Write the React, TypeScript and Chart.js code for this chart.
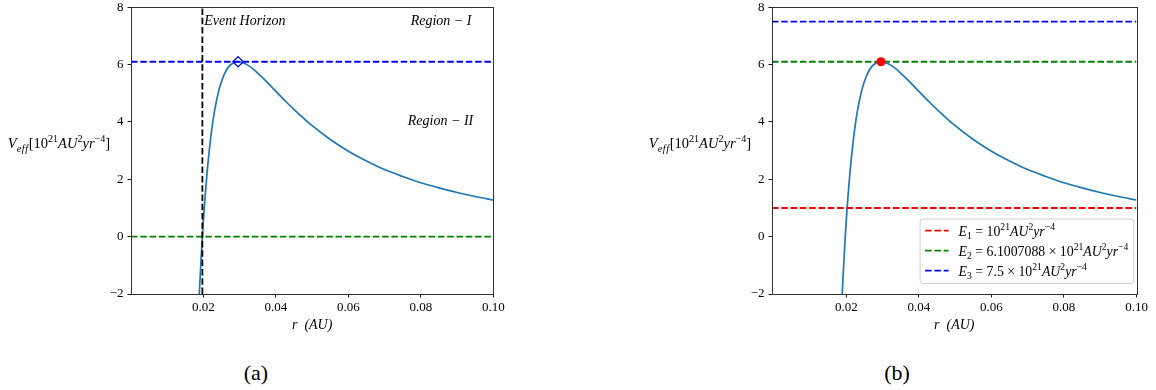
import React, { useEffect, useRef } from "react";
import { Chart, registerables } from "chart.js";

Chart.register(...registerables);

// ---------------- data ----------------
const rValues = [
  0.0186, 0.0188, 0.019, 0.0193, 0.0195, 0.0197, 0.0199, 0.02, 0.0202, 0.0205,
  0.021, 0.0215, 0.022, 0.0225, 0.023, 0.0235, 0.024, 0.0245, 0.025, 0.026,
  0.027, 0.028, 0.029, 0.02955, 0.03, 0.031, 0.032, 0.034, 0.036, 0.038, 0.04,
  0.043, 0.046, 0.05, 0.055, 0.06, 0.065, 0.07, 0.075, 0.08, 0.085, 0.09, 0.095,
  0.1,
];
const vEffValues = [
  -2.73, -2.16, -1.63, -0.89, -0.43, 0, 0.41, 0.6, 0.97, 1.48, 2.24, 2.89, 3.45,
  3.93, 4.34, 4.68, 4.97, 5.22, 5.42, 5.73, 5.93, 6.04, 6.094, 6.1007, 6.097,
  6.06, 6.0, 5.82, 5.58, 5.33, 5.07, 4.68, 4.32, 3.87, 3.39, 2.98, 2.64, 2.34,
  2.1, 1.88, 1.7, 1.54, 1.4, 1.28,
];
const xTickValues = [0.02, 0.04, 0.06, 0.08, 0.1];
const yTickValues = [-2, 0, 2, 4, 6, 8];
const eventHorizonR = [0.0197];
const peakR = [0.02955];
const peakV = [6.1007088];
const panelALevels = [6.1007088, 0];
const energyLevels = [1, 6.1007088, 7.5];
const xMaxValue = 0.1;
const yMinValue = -2;
const yMaxValue = 8;
const panelAXMin = 0;
const panelBXMin = -0.0005;

type Seg = { t: string; it?: boolean; v?: "sup" | "sub" };

const energyLabels: Seg[][] = [
  [
    { t: "E", it: true }, { t: "1", v: "sub" }, { t: " = 10" }, { t: "21", v: "sup" },
    { t: "AU", it: true }, { t: "2", v: "sup" }, { t: "yr", it: true }, { t: "−4", v: "sup" },
  ],
  [
    { t: "E", it: true }, { t: "2", v: "sub" }, { t: " = 6.1007088 × 10" }, { t: "21", v: "sup" },
    { t: "AU", it: true }, { t: "2", v: "sup" }, { t: "yr", it: true }, { t: "−4", v: "sup" },
  ],
  [
    { t: "E", it: true }, { t: "3", v: "sub" }, { t: " = 7.5 × 10" }, { t: "21", v: "sup" },
    { t: "AU", it: true }, { t: "2", v: "sup" }, { t: "yr", it: true }, { t: "−4", v: "sup" },
  ],
];
const yLabelSegs: Seg[] = [
  { t: "V", it: true }, { t: "e", it: true, v: "sub" }, { t: "f", it: true, v: "sub" },
  { t: "f", it: true, v: "sub" }, { t: "[10" }, { t: "21", v: "sup" },
  { t: "AU", it: true }, { t: "2", v: "sup" }, { t: "yr", it: true }, { t: "−4", v: "sup" }, { t: "]" },
];
const panelANotes = [
  { text: "Event Horizon", r: 0.0202, v: 7.38 },
  { text: "Region − I", r: 0.0772, v: 7.38 },
  { text: "Region − II", r: 0.0764, v: 3.91 },
];

// ---------------- styles ----------------
const FONT = "'Liberation Serif', 'Times New Roman', Times, serif";
const CURVE_COLOR = "#1f77b4";
const DASH = [6.5, 2.8];
const panelAColors = ["#0000ff", "#008000"];
const energyColors = ["#ff0000", "#008000", "#0000ff"];
const CW = 578;
const CH = 345;

function segFont(s: Seg, size: number) {
  const sz = s.v ? size * 0.7 : size;
  return `${s.it ? "italic " : ""}${sz}px ${FONT}`;
}
function measureRich(ctx: CanvasRenderingContext2D, segs: Seg[], size: number) {
  let w = 0;
  for (const s of segs) {
    ctx.font = segFont(s, size);
    w += ctx.measureText(s.t).width + (s.it && s.v ? 0.6 : 0);
  }
  return w;
}
function drawRich(
  ctx: CanvasRenderingContext2D,
  segs: Seg[],
  x: number,
  y: number,
  size: number,
  align: "left" | "center" | "right"
) {
  const w = measureRich(ctx, segs, size);
  let cx = align === "center" ? x - w / 2 : align === "right" ? x - w : x;
  ctx.save();
  ctx.fillStyle = "#000";
  ctx.textAlign = "left";
  ctx.textBaseline = "alphabetic";
  for (const s of segs) {
    ctx.font = segFont(s, size);
    const dy = s.v === "sup" ? -size * 0.4 : s.v === "sub" ? size * 0.25 : 0;
    ctx.fillText(s.t, cx, y + dy);
    cx += ctx.measureText(s.t).width + (s.it && s.v ? 0.6 : 0);
  }
  ctx.restore();
  return w;
}

function hLine(level: number, xMin: number, color: string, order: number) {
  return {
    data: [
      { x: xMin, y: level },
      { x: xMaxValue, y: level },
    ],
    showLine: true,
    borderColor: color,
    borderWidth: 1.8,
    borderDash: DASH,
    pointRadius: 0,
    order,
  };
}

function curveDataset() {
  return {
    data: rValues.map((r, i) => ({ x: r, y: vEffValues[i] })),
    showLine: true,
    borderColor: CURVE_COLOR,
    borderWidth: 1.7,
    pointRadius: 0,
    cubicInterpolationMode: "monotone",
    clip: 0,
    order: 5,
  };
}

const framePlugin = {
  id: "frame",
  afterDraw(chart: any) {
    const { ctx, chartArea: a } = chart;
    ctx.save();
    ctx.strokeStyle = "#333";
    ctx.lineWidth = 1;
    ctx.strokeRect(Math.round(a.left) + 0.5, Math.round(a.top) + 0.5, Math.round(a.right - a.left), Math.round(a.bottom - a.top));
    const mid = (a.top + a.bottom) / 2;
    drawRich(ctx, yLabelSegs, a.left - 72, mid - 2.6, 14.5, "center");
    ctx.restore();
  },
};

function baseOptions(xMin: number, yWidth: number, padRight: number) {
  const tickFont = { family: FONT, size: 13 };
  const grid = {
    drawOnChartArea: false,
    drawTicks: true,
    tickLength: 3.5,
    color: "#000",
    lineWidth: 0.9,
  };
  return {
    animation: false,
    responsive: false,
    maintainAspectRatio: false,
    layout: { padding: { left: 0, right: padRight, top: 7.3, bottom: 0 } },
    plugins: { legend: { display: false }, tooltip: { enabled: false } },
    scales: {
      x: {
        type: "linear",
        min: xMin,
        max: xMaxValue,
        afterBuildTicks: (s: any) => {
          s.ticks = xTickValues.map((value) => ({ value }));
        },
        afterFit: (s: any) => {
          s.height = CH - 294;
          s.paddingLeft = 0;
          s.paddingRight = 0;
        },
        ticks: {
          font: tickFont,
          color: "#000",
          padding: 2,
          maxRotation: 0,
          autoSkip: false,
          callback: (v: any) => Number(v).toFixed(2),
        },
        grid,
        border: { display: false },
        title: {
          display: true,
          text: "r  (AU)",
          color: "#000",
          font: { family: FONT, size: 14, style: "italic" },
          padding: { top: 0, bottom: 11.6 },
        },
      },
      y: {
        type: "linear",
        min: yMinValue,
        max: yMaxValue,
        afterBuildTicks: (s: any) => {
          s.ticks = yTickValues.map((value) => ({ value }));
        },
        afterFit: (s: any) => {
          s.width = yWidth;
          s.paddingTop = 0;
          s.paddingBottom = 0;
        },
        ticks: {
          font: tickFont,
          color: "#000",
          padding: 4,
          callback: (v: any) => (Number(v) < 0 ? "−" + Math.abs(Number(v)) : String(v)),
        },
        grid,
        border: { display: false },
      },
    },
  };
}

export default function App() {
  const leftRef = useRef<HTMLCanvasElement>(null);
  const rightRef = useRef<HTMLCanvasElement>(null);

  useEffect(() => {
    const notesPlugin = {
      id: "notes",
      afterDatasetsDraw(chart: any) {
        const { ctx, scales } = chart;
        for (const n of panelANotes) {
          drawRich(
            ctx,
            [{ t: n.text, it: true }],
            scales.x.getPixelForValue(n.r),
            scales.y.getPixelForValue(n.v),
            14,
            "left"
          );
        }
      },
    };

    const legendPlugin = {
      id: "legendBox",
      afterDraw(chart: any) {
        const { ctx, chartArea: a } = chart;
        const size = 13.8;
        let maxW = 0;
        for (const segs of energyLabels) maxW = Math.max(maxW, measureRich(ctx, segs, size));
        const bw = 39 + maxW + 5;
        const bh = 64.5;
        const bx = a.right - 3.2 - bw;
        const by = a.bottom - 11 - bh;
        ctx.save();
        ctx.beginPath();
        if ((ctx as any).roundRect) (ctx as any).roundRect(bx + 0.5, by + 0.5, bw, bh, 3);
        else ctx.rect(bx + 0.5, by + 0.5, bw, bh);
        ctx.fillStyle = "rgba(255,255,255,0.8)";
        ctx.fill();
        ctx.strokeStyle = "#d0d0d0";
        ctx.lineWidth = 1;
        ctx.stroke();
        energyLabels.forEach((segs, i) => {
          const cy = by + 12.2 + i * 20;
          ctx.beginPath();
          ctx.setLineDash(DASH);
          ctx.strokeStyle = energyColors[i];
          ctx.lineWidth = 1.8;
          ctx.moveTo(bx + 5.5, cy);
          ctx.lineTo(bx + 29, cy);
          ctx.stroke();
          ctx.setLineDash([]);
          drawRich(ctx, segs, bx + 39, cy + 4.8, size, "left");
        });
        ctx.restore();
      },
    };

    const left = new Chart(leftRef.current as HTMLCanvasElement, {
      type: "scatter",
      data: {
        datasets: [
          curveDataset(),
          ...panelALevels.map((lv, i) => hLine(lv, panelAXMin, panelAColors[i], 3)),
          {
            data: [
              { x: eventHorizonR[0], y: yMinValue },
              { x: eventHorizonR[0], y: yMaxValue },
            ],
            showLine: true,
            borderColor: "#000",
            borderWidth: 1.8,
            borderDash: DASH,
            pointRadius: 0,
            order: 2,
          },
          {
            data: peakR.map((r, i) => ({ x: r, y: peakV[i] })),
            showLine: false,
            pointStyle: "rectRot",
            pointRadius: 5.2,
            borderColor: "#0000ff",
            backgroundColor: "rgba(255,255,255,0)",
            borderWidth: 1.3,
            order: 0,
          },
        ],
      } as any,
      options: baseOptions(panelAXMin, 131, CW - 493.3) as any,
      plugins: [framePlugin, notesPlugin],
    });

    const right = new Chart(rightRef.current as HTMLCanvasElement, {
      type: "scatter",
      data: {
        datasets: [
          curveDataset(),
          ...energyLevels.map((lv, i) => hLine(lv, panelBXMin, energyColors[i], 3)),
          {
            data: peakR.map((r, i) => ({ x: r, y: peakV[i] })),
            showLine: false,
            pointStyle: "circle",
            pointRadius: 4.6,
            borderColor: "#ff0000",
            backgroundColor: "#ff0000",
            borderWidth: 0,
            order: 0,
          },
        ],
      } as any,
      options: baseOptions(panelBXMin, 194, CW - 558.5) as any,
      plugins: [framePlugin, legendPlugin],
    });

    return () => {
      left.destroy();
      right.destroy();
    };
  }, []);

  const captionStyle: React.CSSProperties = {
    position: "absolute",
    top: 360,
    width: 100,
    textAlign: "center",
    fontFamily: FONT,
    fontSize: 22,
    lineHeight: "26px",
    color: "#000",
  };

  return (
    <div
      style={{
        position: "fixed",
        left: 0,
        top: 0,
        width: 1156,
        height: 390,
        background: "#fff",
        overflow: "hidden",
      }}
    >
      <canvas
        ref={leftRef}
        width={CW}
        height={CH}
        style={{ position: "absolute", left: 0, top: 0, width: CW, height: CH }}
      />
      <canvas
        ref={rightRef}
        width={CW}
        height={CH}
        style={{ position: "absolute", left: CW, top: 0, width: CW, height: CH }}
      />
      <div style={{ ...captionStyle, left: 256 - 50 }}>(a)</div>
      <div style={{ ...captionStyle, left: 897 - 50 }}>(b)</div>
    </div>
  );
}
